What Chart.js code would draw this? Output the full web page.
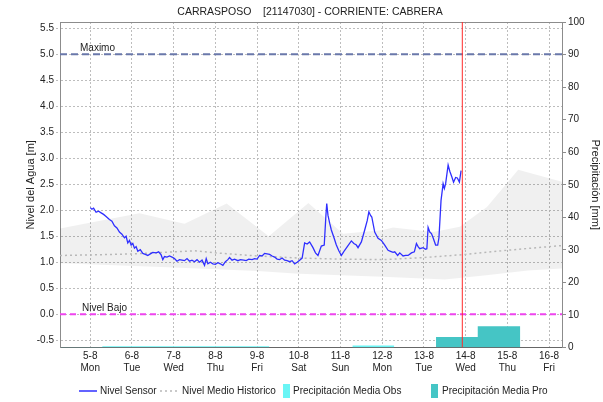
<!DOCTYPE html>
<html>
<head>
<meta charset="utf-8">
<script src="https://cdn.jsdelivr.net/npm/chart.js@4.4.1/dist/chart.umd.min.js"></script>
<style>
  html, body { margin: 0; padding: 0; background: #ffffff; }
  #wrap { width: 603px; height: 402px; position: relative; }
</style>
</head>
<body>
<div id="wrap"><canvas id="c" width="603" height="402"></canvas></div>
<script>
// Station hydrograph: sensor level, historical mean/range and rainfall
const chartTitle = 'CARRASPOSO    [21147030] - CORRIENTE: CABRERA';

// x axis: days counted from 5-8 00:00
const tickDates = ['5-8', '6-8', '7-8', '8-8', '9-8', '10-8', '11-8', '12-8', '13-8', '14-8', '15-8', '16-8'];
const tickWeekdays = ['Mon', 'Tue', 'Wed', 'Thu', 'Fri', 'Sat', 'Sun', 'Mon', 'Tue', 'Wed', 'Thu', 'Fri'];
const levelTicks = [-0.5, 0.0, 0.5, 1.0, 1.5, 2.0, 2.5, 3.0, 3.5, 4.0, 4.5, 5.0, 5.5];
const rainTicks = [0, 10, 20, 30, 40, 50, 60, 70, 80, 90, 100];

// Reference levels [m] and current time (days)
const levelMax = 5.0;
const levelLow = 0.0;
const nowDay = 8.92;

// Nivel Sensor [m]
const sensorDays = [
  0.00, 0.04, 0.08, 0.14, 0.20, 0.26, 0.32, 0.38, 0.46, 0.52, 0.58, 0.64, 0.70, 0.76, 0.82, 0.86, 0.90, 0.94, 0.98,
  1.02, 1.06, 1.10, 1.14, 1.20, 1.26, 1.32, 1.38, 1.44, 1.50, 1.58, 1.64, 1.70, 1.74, 1.78, 1.84, 1.90, 1.96,
  2.02, 2.08, 2.14, 2.20, 2.26, 2.32, 2.38, 2.44, 2.50, 2.56, 2.62, 2.68, 2.74, 2.78, 2.82, 2.88, 2.94,
  3.00, 3.06, 3.12, 3.18, 3.24, 3.30, 3.34, 3.40, 3.46, 3.54, 3.60, 3.68, 3.74, 3.80, 3.88, 3.94,
  4.00, 4.06, 4.12, 4.18, 4.24, 4.30, 4.36, 4.42, 4.48, 4.54, 4.60, 4.66, 4.72, 4.78, 4.84, 4.90, 4.96,
  5.02, 5.08, 5.14, 5.20, 5.26, 5.34, 5.40, 5.46, 5.50, 5.54, 5.61, 5.65, 5.67, 5.70, 5.74, 5.78, 5.84, 5.90, 5.96,
  6.02, 6.06, 6.10, 6.18, 6.26, 6.32, 6.38, 6.42, 6.50, 6.58, 6.64, 6.68, 6.72, 6.75, 6.82, 6.90, 6.98,
  7.06, 7.14, 7.20, 7.26, 7.30, 7.37, 7.42, 7.50, 7.56, 7.62, 7.70, 7.77, 7.82, 7.86, 7.90, 7.98,
  8.04, 8.07, 8.10, 8.14, 8.18, 8.22, 8.28, 8.33, 8.36, 8.41, 8.46, 8.49, 8.52, 8.58, 8.62, 8.67, 8.71, 8.76, 8.80, 8.85, 8.89
];
const sensorLevels = [
  2.05, 2.02, 2.04, 1.96, 1.98, 1.95, 1.92, 1.88, 1.82, 1.79, 1.70, 1.66, 1.58, 1.54, 1.47, 1.50, 1.37, 1.42, 1.33,
  1.36, 1.27, 1.30, 1.21, 1.24, 1.17, 1.15, 1.13, 1.16, 1.19, 1.18, 1.20, 1.14, 1.05, 1.11, 1.10, 1.12, 1.10,
  1.07, 1.02, 1.05, 1.04, 1.03, 1.07, 1.02, 1.04, 1.01, 1.05, 1.00, 1.04, 0.94, 1.07, 0.97, 1.00, 0.97,
  0.96, 0.99, 0.97, 0.94, 1.01, 1.05, 1.09, 1.04, 1.06, 1.03, 1.05, 1.04, 1.03, 1.06, 1.05, 1.07,
  1.06, 1.13, 1.12, 1.17, 1.16, 1.15, 1.12, 1.10, 1.06, 1.05, 1.08, 1.04, 1.03, 1.01, 1.03, 0.97, 1.00,
  1.04, 1.08, 1.37, 1.35, 1.39, 1.28, 1.18, 1.13, 1.22, 1.31, 1.33, 1.90, 2.13, 1.90, 1.75, 1.62, 1.48, 1.33, 1.22,
  1.13, 1.18, 1.23, 1.32, 1.41, 1.36, 1.33, 1.28, 1.39, 1.62, 1.80, 1.97, 1.90, 1.87, 1.58, 1.46, 1.42,
  1.33, 1.23, 1.21, 1.19, 1.20, 1.13, 1.18, 1.12, 1.13, 1.13, 1.18, 1.20, 1.36, 1.30, 1.26, 1.28,
  1.25, 1.26, 1.67, 1.58, 1.55, 1.47, 1.33, 1.33, 1.47, 2.19, 2.51, 2.42, 2.51, 2.87, 2.75, 2.64, 2.54, 2.63, 2.62, 2.54, 2.76
];

// Nivel Medio Historico [m]
const meanDays = [-0.725, 0, 1, 2, 2.5, 3, 4, 5, 6, 7, 8, 9, 10, 11, 11.31];
const meanLevels = [1.13, 1.14, 1.16, 1.20, 1.22, 1.18, 1.12, 1.08, 1.06, 1.05, 1.09, 1.15, 1.23, 1.30, 1.32];

// Historical range envelope [m]
const bandUpperDays = [-0.725, -0.14, 1.18, 2.26, 3.27, 4.28, 5.23, 6.06, 7.02, 7.26, 8.22, 8.86, 9.51, 10.26, 11.31];
const bandUpper = [1.65, 1.74, 1.94, 1.74, 2.13, 1.50, 2.14, 1.55, 1.62, 1.67, 1.58, 1.68, 2.06, 2.78, 2.55];
const bandLowerDays = [-0.725, 2, 4, 5, 7, 8.5, 9.5, 10.5, 11.31];
const bandLower = [0.98, 0.90, 0.83, 0.78, 0.72, 0.67, 0.75, 0.84, 0.88];

// Daily rainfall [mm]: each value holds from its start day to the next one
const obsDays = [-0.71, 0.29, 1.29, 2.29, 3.29, 4.29, 6.29, 7.29];
const obsRain = [0.15, 0.4, 0.4, 0.4, 0.35, 0, 0.6, 0];
const proDays = [8.29, 9.29, 10.31];
const proRain = [3.2, 6.5, 0];

const FONT = '"Liberation Sans", Arial, sans-serif';
const zip = (xs, ys) => xs.map((x, i) => ({ x: x, y: ys[i] }));

const X_MIN = -0.725, X_MAX = 11.31;
const Y_MIN = -0.64, Y_MAX = 5.62;

const colors = {
  sensor: '#2f2fff',
  mean: '#b8b8b8',
  band: 'rgba(0,0,0,0.06)',
  max: '#6a78aa',
  low: '#ee44ee',
  now: '#ff2a2a',
  obs: '#6af5f5',
  pro: '#45c5c5',
  grid: '#bdbdbd',
  axis: '#8c8c8c',
  text: '#222222'
};

const decorations = {
  id: 'decorations',
  afterDraw(chart) {
    const ctx = chart.ctx;
    const y = chart.scales.y;
    ctx.save();
    ctx.fillStyle = colors.text;
    // title
    ctx.font = '10.5px ' + FONT;
    ctx.textAlign = 'center';
    ctx.textBaseline = 'middle';
    ctx.fillText(chartTitle, 310, 12);
    // reference level labels
    ctx.font = '10px ' + FONT;
    ctx.textAlign = 'left';
    ctx.textBaseline = 'alphabetic';
    ctx.fillText('Maximo', 80, y.getPixelForValue(levelMax) - 3);
    ctx.fillText('Nivel Bajo', 82, y.getPixelForValue(levelLow) - 3);
    // legend
    const ly = 391;
    ctx.textBaseline = 'middle';
    ctx.strokeStyle = colors.sensor;
    ctx.lineWidth = 1.5;
    ctx.beginPath(); ctx.moveTo(79, ly); ctx.lineTo(97, ly); ctx.stroke();
    ctx.fillText('Nivel Sensor', 100, ly);
    ctx.strokeStyle = colors.mean;
    ctx.setLineDash([2, 3]);
    ctx.beginPath(); ctx.moveTo(160, ly); ctx.lineTo(178, ly); ctx.stroke();
    ctx.setLineDash([]);
    ctx.fillText('Nivel Medio Historico', 182, ly);
    ctx.fillStyle = colors.obs;
    ctx.fillRect(283, ly - 7, 7, 14);
    ctx.fillStyle = colors.text;
    ctx.fillText('Precipitación Media Obs', 293, ly);
    ctx.fillStyle = colors.pro;
    ctx.fillRect(431, ly - 7, 7, 14);
    ctx.fillStyle = colors.text;
    ctx.fillText('Precipitación Media Pro', 442, ly);
    ctx.restore();
  }
};

const lineBase = { pointRadius: 0, pointHoverRadius: 0, tension: 0, fill: false };

new Chart(document.getElementById('c'), {
  type: 'line',
  data: {
    datasets: [
      Object.assign({}, lineBase, {
        label: 'band lower', data: zip(bandLowerDays, bandLower),
        borderColor: 'rgba(0,0,0,0)', borderWidth: 0, yAxisID: 'y', order: 10
      }),
      Object.assign({}, lineBase, {
        label: 'band upper', data: zip(bandUpperDays, bandUpper),
        borderColor: 'rgba(0,0,0,0)', borderWidth: 0, backgroundColor: colors.band,
        fill: { target: 0 }, yAxisID: 'y', order: 9
      }),
      Object.assign({}, lineBase, {
        label: 'Precipitación Media Obs', data: zip(obsDays, obsRain),
        stepped: 'before', borderColor: 'rgba(0,0,0,0)', borderWidth: 0,
        backgroundColor: colors.obs, fill: 'origin', yAxisID: 'yR', order: 8
      }),
      Object.assign({}, lineBase, {
        label: 'Precipitación Media Pro', data: zip(proDays, proRain),
        stepped: 'before', borderColor: 'rgba(0,0,0,0)', borderWidth: 0,
        backgroundColor: colors.pro, fill: 'origin', yAxisID: 'yR', order: 7
      }),
      Object.assign({}, lineBase, {
        label: 'Nivel Medio Historico', data: zip(meanDays, meanLevels),
        borderColor: colors.mean, borderWidth: 1.5, borderDash: [2, 3], yAxisID: 'y', order: 6
      }),
      Object.assign({}, lineBase, {
        label: 'Maximo', data: zip([X_MIN, X_MAX], [levelMax, levelMax]),
        borderColor: colors.max, borderWidth: 2, borderDash: [7, 4], yAxisID: 'y', order: 5
      }),
      Object.assign({}, lineBase, {
        label: 'Nivel Bajo', data: zip([X_MIN, X_MAX], [levelLow, levelLow]),
        borderColor: colors.low, borderWidth: 2, borderDash: [6, 4], yAxisID: 'y', order: 4
      }),
      Object.assign({}, lineBase, {
        label: 'Nivel Sensor', data: zip(sensorDays, sensorLevels),
        borderColor: colors.sensor, borderWidth: 1.3, yAxisID: 'y', order: 3
      }),
      Object.assign({}, lineBase, {
        label: 'ahora', data: zip([nowDay, nowDay], [Y_MIN, Y_MAX]),
        borderColor: colors.now, borderWidth: 1, yAxisID: 'y', order: 2
      })
    ]
  },
  options: {
    responsive: false,
    animation: false,
    devicePixelRatio: 1,
    layout: { padding: { top: 22, bottom: 26.5, left: 0, right: 0 } },
    plugins: {
      legend: { display: false },
      title: { display: false },
      tooltip: { enabled: false }
    },
    scales: {
      x: {
        type: 'linear', position: 'bottom', min: X_MIN, max: X_MAX,
        afterBuildTicks: (axis) => { axis.ticks = tickDates.map((_, i) => ({ value: i })); },
        afterFit: (axis) => { axis.height = 28; },
        ticks: {
          autoSkip: false, maxRotation: 0, padding: 3, color: colors.text,
          font: { family: FONT, size: 10, lineHeight: 1.15 },
          callback: (v) => [tickDates[v], tickWeekdays[v]]
        },
        grid: { color: colors.grid, drawTicks: false, lineWidth: 1 },
        border: { color: '#666666', width: 1, dash: [2, 2] }
      },
      xTop: {
        type: 'linear', position: 'top', min: X_MIN, max: X_MAX,
        afterFit: (axis) => { axis.height = 0; },
        ticks: { display: false },
        grid: { display: false },
        border: { color: colors.axis, width: 1 }
      },
      y: {
        type: 'linear', position: 'left', min: Y_MIN, max: Y_MAX,
        afterBuildTicks: (axis) => { axis.ticks = levelTicks.map(v => ({ value: v })); },
        afterFit: (axis) => { axis.width = 60; },
        ticks: {
          padding: 2, color: colors.text, font: { family: FONT, size: 10 },
          callback: (v) => Number(v).toFixed(1)
        },
        grid: { color: colors.grid, tickBorderDash: [2, 2], tickLength: 4, tickColor: colors.grid },
        border: { color: colors.axis, width: 1, dash: [2, 2] },
        title: {
          display: true, text: 'Nivel del Agua [m]', color: colors.text,
          font: { family: FONT, size: 11 }, padding: { top: 24, bottom: 0 }
        }
      },
      yR: {
        type: 'linear', position: 'right', min: 0, max: 100,
        afterBuildTicks: (axis) => { axis.ticks = rainTicks.map(v => ({ value: v })); },
        afterFit: (axis) => { axis.width = 41; },
        ticks: { padding: 2, color: colors.text, font: { family: FONT, size: 10 } },
        grid: { drawOnChartArea: false, tickLength: 4, color: colors.axis },
        border: { color: colors.axis, width: 1 },
        title: {
          display: true, text: 'Precipitación [mm]', color: colors.text,
          font: { family: FONT, size: 11 }, padding: { top: 1, bottom: 0 }
        }
      }
    }
  },
  plugins: [decorations]
});
</script>
</body>
</html>
